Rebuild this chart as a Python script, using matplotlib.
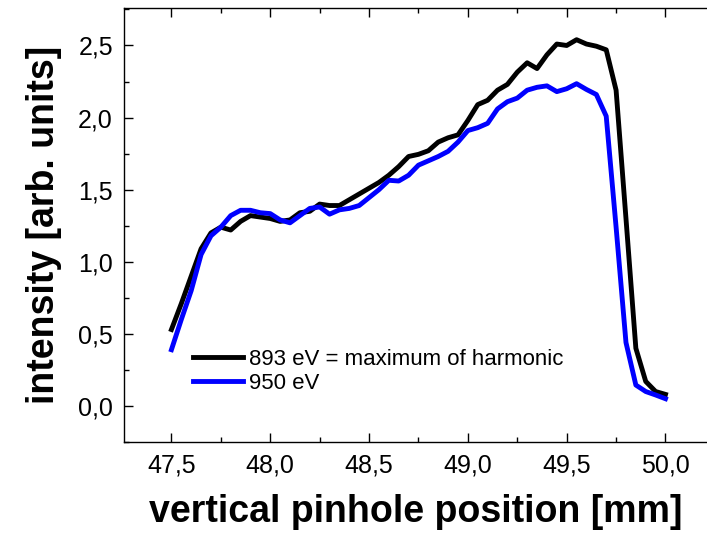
import matplotlib
matplotlib.use("Agg")
import matplotlib.pyplot as plt
from matplotlib.ticker import MultipleLocator, FuncFormatter

plt.rcParams['font.family'] = ['Liberation Sans', 'DejaVu Sans']

# pinhole position [mm]
pos = [47.50, 47.55, 47.60, 47.65, 47.70, 47.75, 47.80, 47.85, 47.90, 47.95,
       48.00, 48.05, 48.10, 48.15, 48.20, 48.25, 48.30, 48.35, 48.40, 48.45,
       48.50, 48.55, 48.60, 48.65, 48.70, 48.75, 48.80, 48.85, 48.90, 48.95,
       49.00, 49.05, 49.10, 49.15, 49.20, 49.25, 49.30, 49.35, 49.40, 49.45,
       49.50, 49.55, 49.60, 49.65, 49.70, 49.75, 49.80, 49.85, 49.90, 49.95,
       50.00]

# 893 eV (maximum of harmonic)
i_893 = [0.53, 0.71, 0.90, 1.09, 1.20, 1.24, 1.22, 1.28, 1.32, 1.31,
         1.30, 1.28, 1.29, 1.34, 1.35, 1.40, 1.39, 1.39, 1.43, 1.47,
         1.51, 1.55, 1.60, 1.66, 1.73, 1.745, 1.77, 1.83, 1.86, 1.88,
         1.98, 2.09, 2.12, 2.19, 2.23, 2.315, 2.38, 2.34, 2.435, 2.51,
         2.50, 2.54, 2.51, 2.495, 2.47, 2.19, 1.30, 0.40, 0.17, 0.10,
         0.08]

# 950 eV
i_950 = [0.39, 0.60, 0.80, 1.05, 1.18, 1.24, 1.32, 1.357, 1.357, 1.34,
         1.334, 1.29, 1.27, 1.32, 1.37, 1.38, 1.33, 1.36, 1.37, 1.39,
         1.445, 1.50, 1.565, 1.56, 1.60, 1.67, 1.70, 1.73, 1.766, 1.83,
         1.91, 1.93, 1.96, 2.06, 2.11, 2.135, 2.19, 2.21, 2.22, 2.18,
         2.20, 2.235, 2.195, 2.16, 2.01, 1.24, 0.44, 0.145, 0.10, 0.076,
         0.05]

fig = plt.figure(figsize=(7.07, 5.40), dpi=100)
ax = fig.add_axes([0.1754, 0.1815, 0.8246, 0.8037])

ax.plot(pos, i_893, color='black', lw=3.5, label='893 eV = maximum of harmonic')
ax.plot(pos, i_950, color='#0000ff', lw=3.5, label='950 eV')

ax.set_xlim(47.26, 50.21)
ax.set_ylim(-0.25, 2.76)

ax.xaxis.set_major_locator(MultipleLocator(0.5))
ax.xaxis.set_minor_locator(MultipleLocator(0.25))
ax.yaxis.set_major_locator(MultipleLocator(0.5))
ax.yaxis.set_minor_locator(MultipleLocator(0.25))
comma = FuncFormatter(lambda v, p: ('%.1f' % v).replace('.', ','))
ax.xaxis.set_major_formatter(comma)
ax.yaxis.set_major_formatter(comma)

ax.tick_params(which='both', direction='in', top=True, right=False,
               labelsize=18, width=1.0, pad=8)
ax.tick_params(which='major', length=6.5)
ax.tick_params(which='minor', length=3.5)
for s in ['left', 'bottom', 'top']:
    ax.spines[s].set_linewidth(1.0)
ax.spines['right'].set_visible(False)

ax.set_xlabel('vertical pinhole position [mm]', fontsize=27, fontweight='bold')
ax.set_ylabel('intensity [arb. units]', fontsize=27, fontweight='bold')
ax.xaxis.set_label_coords(0.5, -0.12)
ax.yaxis.set_label_coords(-0.106, 0.5)

ax.legend(loc='lower left', bbox_to_anchor=(0.118, 0.11), frameon=False,
          fontsize=16, handlelength=2.25, handletextpad=0.27,
          borderpad=0, borderaxespad=0, labelspacing=0.15)

fig.savefig('out.png', dpi=100)
